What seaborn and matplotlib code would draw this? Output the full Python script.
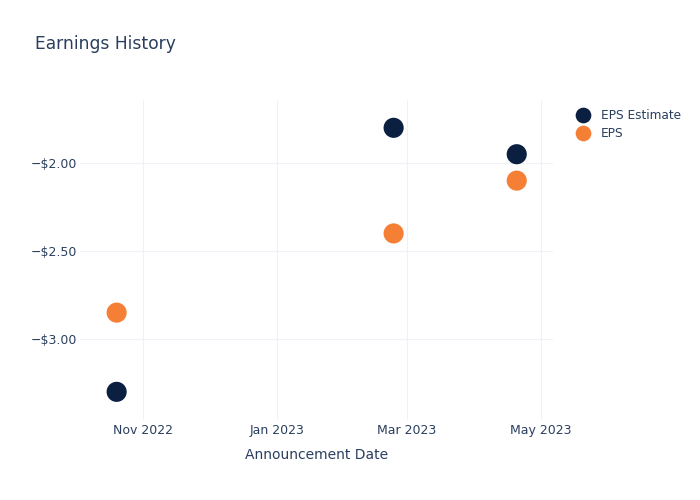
import matplotlib
matplotlib.use("Agg")
import matplotlib.pyplot as plt
import matplotlib.dates as mdates
from matplotlib.ticker import FuncFormatter
import seaborn as sns
import pandas as pd

dates = ["2022-10-20", "2023-02-23", "2023-04-20"]
eps_estimate = [-3.30, -1.80, -1.95]
eps_actual = [-2.85, -2.40, -2.10]
series_names = ["EPS Estimate", "EPS"]
colors = ["#0b1f40", "#f58035"]

df = pd.DataFrame({
    "date": pd.to_datetime(dates * 2),
    "value": eps_estimate + eps_actual,
    "series": [series_names[0]] * len(dates) + [series_names[1]] * len(dates),
})

sns.set_theme(style="white")
plt.rcParams["font.family"] = ["DejaVu Sans"]
text_color = "#2a3f5f"

fig = plt.figure(figsize=(7, 5), dpi=100)
ax = fig.add_axes([80 / 700, 1 - 420 / 500, (553 - 80) / 700, (420 - 100) / 500])

sns.scatterplot(data=df, x="date", y="value", hue="series", hue_order=series_names,
                palette=colors, s=210, edgecolor="none", linewidth=0, ax=ax, legend=True, zorder=3)

ax.set_xlim(pd.Timestamp("2022-10-03 08:00"), pd.Timestamp("2023-05-06 12:00"))
ax.set_ylim(-3.46, -1.642)
ax.set_yticks([-3.0, -2.5, -2.0])
ax.yaxis.set_major_formatter(FuncFormatter(lambda v, p: ("\u2212" if v < 0 else "") + "${:.2f}".format(abs(v))))
ax.xaxis.set_major_locator(mdates.MonthLocator(bymonth=[1, 3, 5, 7, 9, 11]))
ax.xaxis.set_major_formatter(mdates.DateFormatter("%b %Y"))

for s in ax.spines.values():
    s.set_visible(False)
ax.grid(True, color="#eef2f8", linewidth=0.8, zorder=0)
ax.set_axisbelow(True)
ax.tick_params(axis="y", length=0, labelsize=9, colors=text_color, pad=2)
ax.tick_params(axis="x", length=0, labelsize=9, colors=text_color, pad=3)
ax.set_xlabel("Announcement Date", fontsize=10, color=text_color, labelpad=8)
ax.set_ylabel("")

handles, labels = ax.get_legend_handles_labels()
ax.legend_.remove()
leg = fig.legend(handles, labels, loc="upper left", bbox_to_anchor=(566 / 700, 1 - 104 / 500),
                 frameon=False, fontsize=8.7, handletextpad=0.5, labelspacing=0.45,
                 markerscale=0.78, borderaxespad=0)
for t in leg.get_texts():
    t.set_color(text_color)

fig.text(35 / 700, 1 - 44 / 500, "Earnings History", fontsize=12.3, color=text_color, va="center", ha="left")

fig.savefig("out.png", dpi=100)
